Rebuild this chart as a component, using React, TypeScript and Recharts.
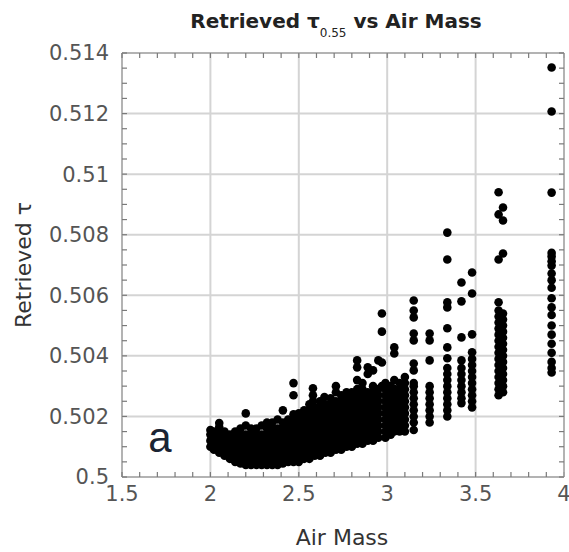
import { CartesianGrid, Scatter, ScatterChart, XAxis, YAxis } from "recharts";

const xMajorTicks = [1.5, 2, 2.5, 3, 3.5, 4];
const xMinorTicks = [
  1.5, 1.6, 1.7, 1.8, 1.9, 2, 2.1, 2.2, 2.3, 2.4, 2.5, 2.6, 2.7, 2.8, 2.9, 3, 3.1, 3.2, 3.3, 3.4, 3.5, 3.6, 3.7,
  3.8, 3.9, 4,
];
const yMajorTicks = [0.5, 0.502, 0.504, 0.506, 0.508, 0.51, 0.512, 0.514];
const yMinorTicks = [
  0.5, 0.5005, 0.501, 0.5015, 0.502, 0.5025, 0.503, 0.5035, 0.504, 0.5045, 0.505, 0.5055, 0.506, 0.5065, 0.507,
  0.5075, 0.508, 0.5085, 0.509, 0.5095, 0.51, 0.5105, 0.511, 0.5115, 0.512, 0.5125, 0.513, 0.5135, 0.514,
];

// air mass of each column of retrievals, and the retrieved tau values in that column
const airMassColumns = [
  2.0, 2.02, 2.05, 2.08, 2.11, 2.14, 2.17, 2.2, 2.23, 2.26, 2.29, 2.32, 2.35, 2.38, 2.41, 2.44, 2.47, 2.5, 2.53, 2.56,
  2.58, 2.59, 2.62, 2.645, 2.65, 2.68, 2.71, 2.74, 2.77, 2.8, 2.83, 2.86, 2.89, 2.92, 2.95, 2.97, 2.99, 3.02, 3.04,
  3.07, 3.1, 3.15, 3.24, 3.34, 3.42, 3.48, 3.63, 3.655, 3.93,
];
const tauColumns = [
  [0.501, 0.5012, 0.5014, 0.50155],
  [0.5009, 0.5011, 0.5013, 0.5015],
  [0.5008, 0.501, 0.5012, 0.5014, 0.50165, 0.50178],
  [0.5007, 0.5009, 0.5011, 0.5013, 0.5015],
  [0.5006, 0.5008, 0.501, 0.5012, 0.5014],
  [0.5005, 0.5007, 0.5009, 0.5011, 0.5013, 0.5015],
  [0.50045, 0.5006, 0.5008, 0.501, 0.5012, 0.5014, 0.5016],
  [0.5004, 0.5006, 0.5008, 0.501, 0.5012, 0.5014, 0.5017, 0.5021],
  [0.5004, 0.5006, 0.5008, 0.501, 0.5012, 0.5014, 0.5016],
  [0.5004, 0.5006, 0.5008, 0.501, 0.5012, 0.5014, 0.5016],
  [0.5004, 0.5006, 0.5008, 0.501, 0.5012, 0.5014, 0.5017],
  [0.5004, 0.5006, 0.5008, 0.501, 0.5012, 0.5014, 0.5016, 0.5018],
  [0.5004, 0.5006, 0.5008, 0.501, 0.5012, 0.5014, 0.5016, 0.5018],
  [0.5004, 0.5006, 0.5008, 0.501, 0.5012, 0.5014, 0.5016, 0.5019],
  [0.50045, 0.5006, 0.5008, 0.501, 0.5012, 0.5014, 0.5016, 0.5018, 0.5022],
  [0.5005, 0.5007, 0.5009, 0.5011, 0.5013, 0.5015, 0.5017, 0.5019],
  [0.5005, 0.5007, 0.5009, 0.5011, 0.5013, 0.5015, 0.5017, 0.5019, 0.50207, 0.5027, 0.5031],
  [0.5005, 0.5007, 0.5009, 0.5011, 0.5013, 0.5015, 0.5017, 0.5019, 0.5021],
  [0.5006, 0.5008, 0.501, 0.5012, 0.5014, 0.5016, 0.5018, 0.502, 0.5022],
  [0.5006, 0.5008, 0.501, 0.5012, 0.5014, 0.5016, 0.5018, 0.502, 0.5022, 0.5024],
  [0.5025, 0.5027, 0.50293],
  [0.5007, 0.5009, 0.5011, 0.5013, 0.5015, 0.5017, 0.5019, 0.5021, 0.5023],
  [0.5007, 0.5009, 0.5011, 0.5013, 0.5015, 0.5017, 0.5019, 0.5021, 0.5023, 0.5025],
  [0.50264],
  [0.5008, 0.501, 0.5012, 0.5014, 0.5016, 0.5018, 0.502, 0.5022, 0.5024],
  [0.5008, 0.501, 0.5012, 0.5014, 0.5016, 0.5018, 0.502, 0.5022, 0.5024, 0.5026],
  [0.5009, 0.5011, 0.5013, 0.5015, 0.5017, 0.5019, 0.5021, 0.5023, 0.5025, 0.5028, 0.503],
  [0.5009, 0.5011, 0.5013, 0.5015, 0.5017, 0.5019, 0.5021, 0.5023, 0.5025, 0.5027],
  [0.501, 0.5012, 0.5014, 0.5016, 0.5018, 0.502, 0.5022, 0.5024, 0.5026, 0.5028],
  [0.501, 0.5012, 0.5014, 0.5016, 0.5018, 0.502, 0.5022, 0.5024, 0.5026, 0.5028],
  [0.5011, 0.5013, 0.5015, 0.5017, 0.5019, 0.5021, 0.5023, 0.5025, 0.5027, 0.5029, 0.5032, 0.50362, 0.50385],
  [0.5011, 0.5013, 0.5015, 0.5017, 0.5019, 0.5021, 0.5023, 0.5025, 0.5027, 0.5029, 0.5031],
  [0.5012, 0.5014, 0.5016, 0.5018, 0.502, 0.5022, 0.5024, 0.5026, 0.5028, 0.5034, 0.50362],
  [0.5012, 0.5014, 0.5016, 0.5018, 0.502, 0.5022, 0.5024, 0.5026, 0.5028, 0.503, 0.50352],
  [0.5013, 0.5015, 0.5017, 0.5019, 0.5021, 0.5023, 0.5025, 0.5027, 0.5029, 0.50385],
  [0.503, 0.50378, 0.5048, 0.5054],
  [0.5013, 0.5015, 0.5017, 0.5019, 0.5021, 0.5023, 0.5025, 0.5027, 0.5029, 0.5031],
  [0.5014, 0.5016, 0.5018, 0.502, 0.5022, 0.5024, 0.5026, 0.5028, 0.503],
  [0.5015, 0.5017, 0.5019, 0.5021, 0.5023, 0.5025, 0.5027, 0.5029, 0.5032, 0.50408, 0.50428],
  [0.5015, 0.5017, 0.5019, 0.5021, 0.5023, 0.5025, 0.5027, 0.5029, 0.5031],
  [0.5015, 0.5017, 0.5019, 0.5021, 0.5023, 0.5025, 0.5027, 0.5029, 0.5031, 0.5033],
  [0.50155, 0.5018, 0.502, 0.5022, 0.5024, 0.5026, 0.5028, 0.503, 0.5031, 0.50352, 0.50375, 0.50451, 0.50474, 0.50527, 0.5055, 0.50583],
  [0.5018, 0.502, 0.5022, 0.5024, 0.5026, 0.5028, 0.503, 0.50385, 0.50451, 0.50474],
  [0.502, 0.5022, 0.5024, 0.5026, 0.5028, 0.503, 0.5032, 0.5034, 0.5036, 0.50392, 0.50428, 0.50491, 0.5056, 0.50577, 0.50718, 0.50807],
  [0.50244, 0.5026, 0.5028, 0.503, 0.5032, 0.5034, 0.5036, 0.50385, 0.50461, 0.5058, 0.50642],
  [0.5023, 0.5025, 0.5027, 0.5029, 0.5031, 0.5033, 0.5035, 0.5037, 0.5039, 0.50412, 0.50471, 0.50606, 0.50675],
  [0.5027, 0.5029, 0.5031, 0.5033, 0.5035, 0.5037, 0.5039, 0.5041, 0.5043, 0.5045, 0.5047, 0.5049, 0.5051, 0.5053, 0.5055, 0.50577, 0.50718, 0.5094, 0.50867],
  [0.5028, 0.503, 0.5032, 0.5034, 0.5036, 0.5038, 0.504, 0.5042, 0.5044, 0.5046, 0.5048, 0.505, 0.5052, 0.5054, 0.50738, 0.5089, 0.50847],
  [0.50345, 0.5036, 0.5038, 0.5041, 0.5044, 0.5047, 0.505, 0.50535, 0.5056, 0.5059, 0.50625, 0.5065, 0.50672, 0.50698, 0.50712, 0.50728, 0.5074, 0.50939, 0.51207, 0.51352],
];

const points = airMassColumns.flatMap((airMass, i) => tauColumns[i].map((tau) => ({ airMass, tau })));

const FRAME = { stroke: "#a8a8a8", strokeWidth: 1.5 };
const TICK_LINE = { stroke: "#7a7a7a", strokeWidth: 1.2 };
const TICK_TEXT = { fontSize: 21, fill: "#555", fontFamily: "DejaVu Sans" };

const Dot = (props: any) => <circle cx={props.cx} cy={props.cy} r={4.3} fill="#000" />;
const NoMark = () => <g />;

export default function App() {
  return (
    <div style={{ position: "absolute", left: 0, top: 0, width: 569, height: 552, background: "#fff", fontFamily: "DejaVu Sans" }}>
      <ScatterChart width={569} height={552} margin={{ top: 53, right: 5, bottom: 0, left: 0 }}>
        <CartesianGrid stroke="#d4d4d4" strokeWidth={2} />
        <XAxis
          type="number"
          dataKey="airMass"
          domain={[1.5, 4]}
          ticks={xMajorTicks}
          interval={0}
          height={75}
          tickSize={0}
          tickMargin={9}
          axisLine={FRAME}
          tickLine={false}
          tick={TICK_TEXT}
          allowDataOverflow
        />
        <YAxis
          type="number"
          dataKey="tau"
          domain={[0.5, 0.514]}
          ticks={yMajorTicks}
          interval={0}
          width={122}
          tickSize={0}
          tickMargin={13}
          axisLine={FRAME}
          tickLine={false}
          tick={TICK_TEXT}
          allowDataOverflow
        />
        {/* inward minor ticks on all four sides */}
        <XAxis xAxisId="bm" dataKey="airMass" type="number" domain={[1.5, 4]} ticks={xMinorTicks} interval={0} mirror tick={NoMark} tickSize={5} axisLine={false} tickLine={TICK_LINE} allowDataOverflow />
        <XAxis xAxisId="tm" dataKey="airMass" orientation="top" type="number" domain={[1.5, 4]} ticks={xMinorTicks} interval={0} mirror tick={NoMark} tickSize={5} axisLine={FRAME} tickLine={TICK_LINE} allowDataOverflow />
        <YAxis yAxisId="lm" dataKey="tau" type="number" domain={[0.5, 0.514]} ticks={yMinorTicks} interval={0} mirror tick={NoMark} tickSize={5} axisLine={false} tickLine={TICK_LINE} allowDataOverflow />
        <YAxis yAxisId="rm" dataKey="tau" orientation="right" type="number" domain={[0.5, 0.514]} ticks={yMinorTicks} interval={0} mirror tick={NoMark} tickSize={5} axisLine={FRAME} tickLine={TICK_LINE} allowDataOverflow />
        <Scatter xAxisId="bm" yAxisId="lm" data={points} isAnimationActive={false} shape={NoMark} />
        <Scatter xAxisId="tm" yAxisId="rm" data={points} isAnimationActive={false} shape={NoMark} />
        <Scatter data={points} isAnimationActive={false} shape={Dot} />
      </ScatterChart>

      <div style={{ position: "absolute", left: 336, top: 9, transform: "translateX(-50%)", whiteSpace: "nowrap", fontSize: 20, fontWeight: "bold", color: "#222" }}>
        Retrieved τ<sub style={{ fontSize: 12, fontWeight: "normal", verticalAlign: -9 }}>0.55</sub> vs Air Mass
      </div>
      <div style={{ position: "absolute", left: 23, top: 265, transform: "translate(-50%, -50%) rotate(-90deg)", whiteSpace: "nowrap", fontSize: 22, color: "#333" }}>
        Retrieved τ
      </div>
      <div style={{ position: "absolute", left: 342, top: 537, transform: "translate(-50%, -50%)", whiteSpace: "nowrap", fontSize: 22, color: "#333" }}>
        Air Mass
      </div>
      <div style={{ position: "absolute", left: 160, top: 438, transform: "translate(-50%, -50%)", fontFamily: "Liberation Sans", fontSize: 42, color: "#1a2433" }}>
        a
      </div>
    </div>
  );
}
